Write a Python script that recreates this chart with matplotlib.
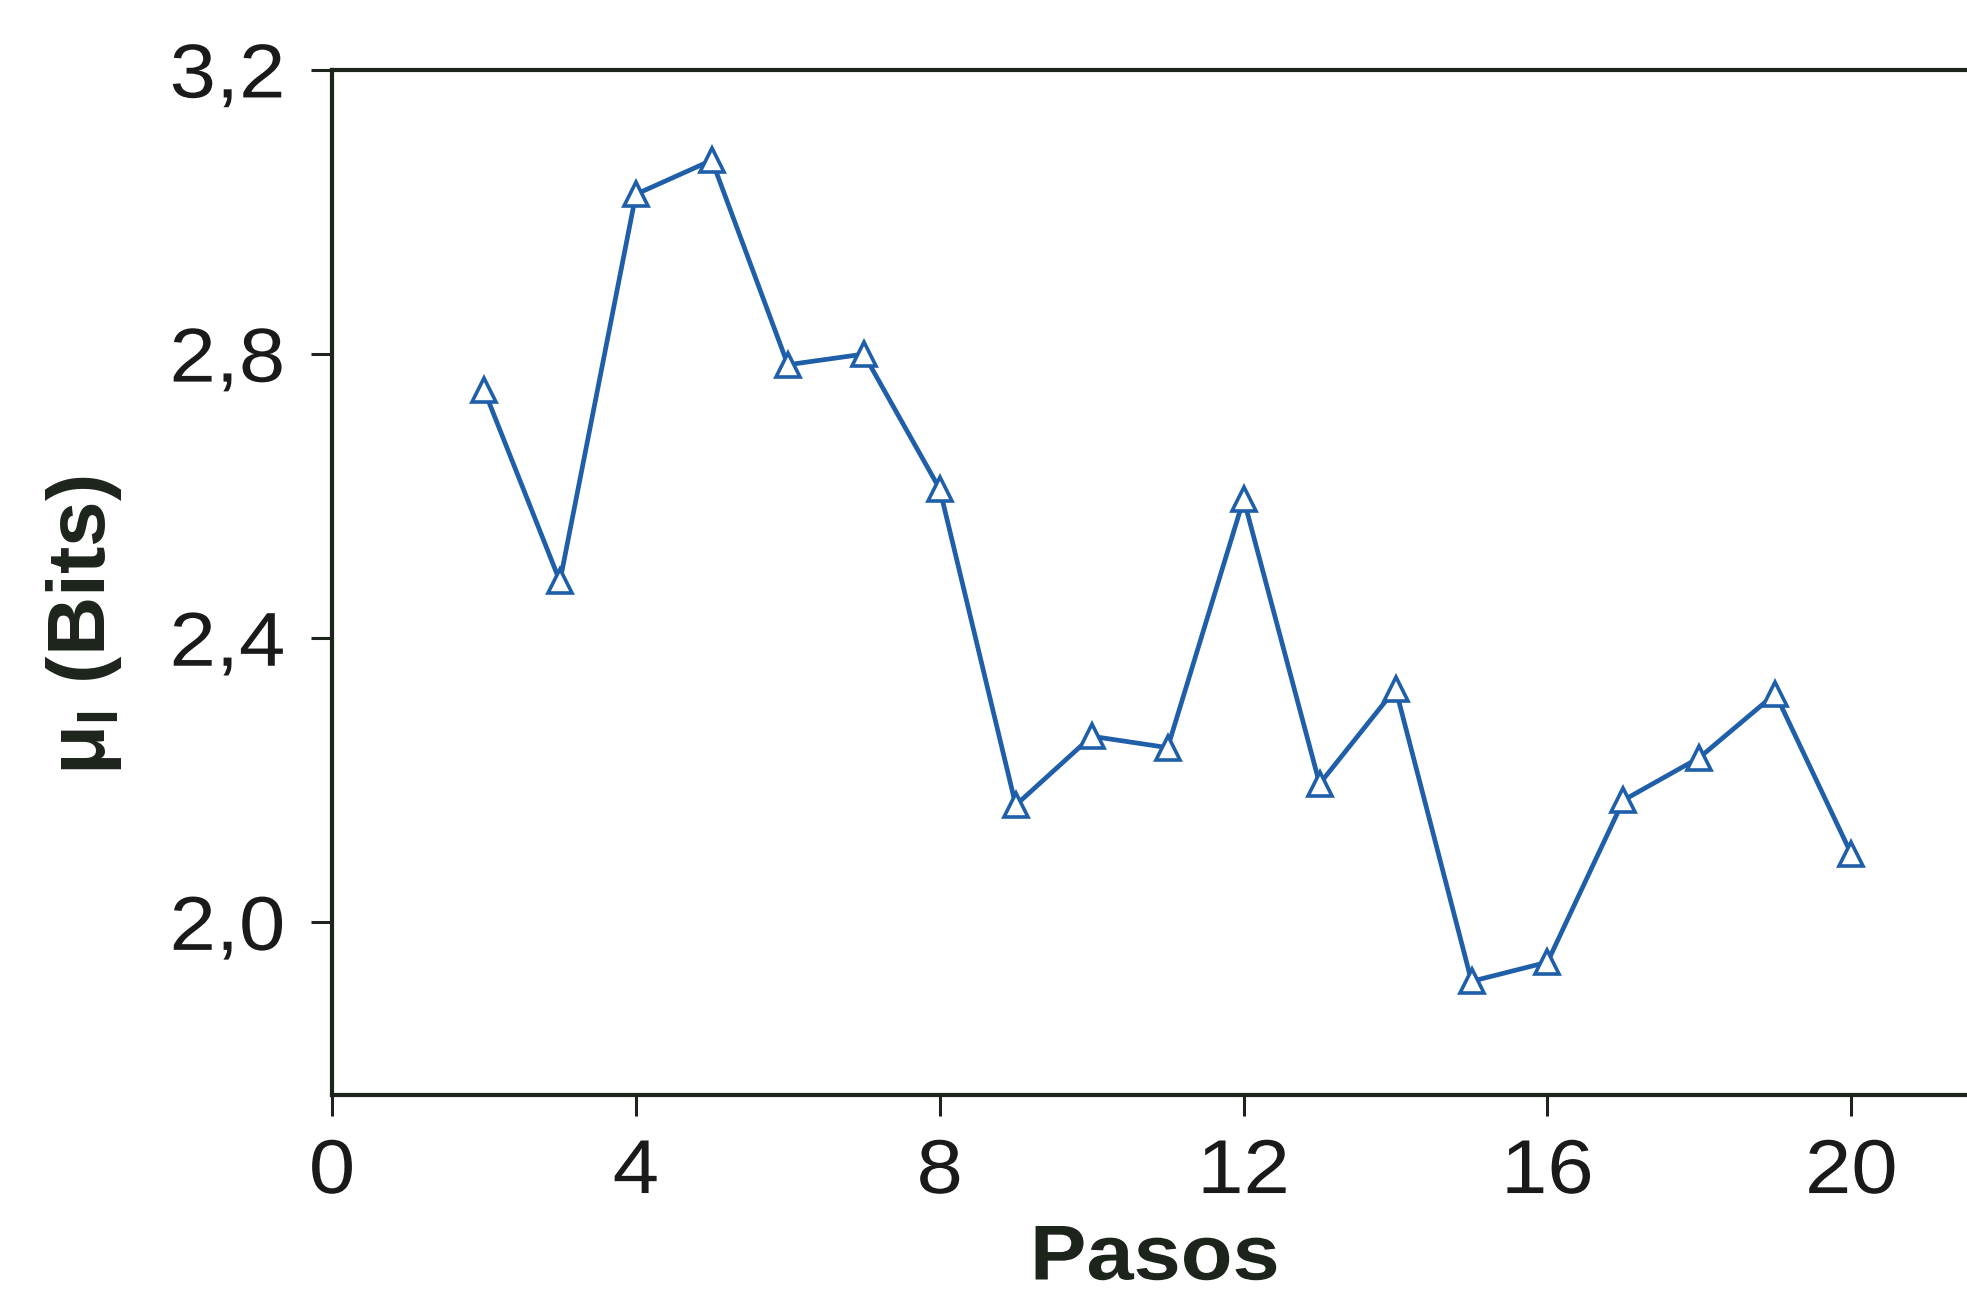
import matplotlib
matplotlib.use('Agg')
import matplotlib.pyplot as plt
from matplotlib import patheffects
from matplotlib.transforms import Affine2D

# datos
pasos = [2, 3, 4, 5, 6, 7, 8, 9, 10, 11, 12, 13, 14, 15, 16, 17, 18, 19, 20]
mu_bits = [2.75, 2.48, 3.025, 3.073, 2.785, 2.80, 2.61, 2.165, 2.262, 2.246,
           2.596, 2.195, 2.329, 1.917, 1.944, 2.172, 2.232, 2.322, 2.096]
x_ticks = [0, 4, 8, 12, 16, 20]
y_ticks = [2.0, 2.4, 2.8, 3.2]
y_tick_labels = ['2,0', '2,4', '2,8', '3,2']


class Stretch(patheffects.AbstractPathEffect):
    # ensancha el texto horizontalmente, como en la figura escaneada
    def __init__(self, sx):
        super().__init__()
        self.sx = sx

    def draw_path(self, renderer, gc, tpath, affine, rgbFace=None):
        ext = tpath.get_extents()
        cx = (ext.x0 + ext.x1) / 2
        t = Affine2D().translate(-cx, 0).scale(self.sx, 1).translate(cx, 0)
        renderer.draw_path(gc, tpath, t + affine, rgbFace)


plt.rcParams['font.family'] = ['Liberation Sans', 'DejaVu Sans']
plt.rcParams['mathtext.fontset'] = 'custom'
plt.rcParams['mathtext.rm'] = 'Liberation Sans'
plt.rcParams['mathtext.bf'] = 'Liberation Sans:bold'

axis_color = '#1c241c'
line_color = '#1f5ea8'
wide = [Stretch(1.09)]

fig = plt.figure(figsize=(19.67, 12.98), dpi=100)
ax = fig.add_axes([0.1688, 0.1564, 0.84, 0.7897])

ax.plot(pasos, mu_bits, color=line_color, linewidth=3.4,
        marker='^', markersize=17, markerfacecolor='white',
        markeredgecolor=line_color, markeredgewidth=2.6)

ax.set_xlim(0, 21.75)
ax.set_ylim(1.757, 3.2)
ax.set_xticks(x_ticks)
ax.set_yticks(y_ticks)
ax.set_yticklabels(y_tick_labels)

for side in ['left', 'bottom', 'top']:
    ax.spines[side].set_linewidth(3)
    ax.spines[side].set_color(axis_color)
ax.spines['right'].set_visible(False)

ax.tick_params(axis='both', direction='out', length=15, width=2.2,
               color=axis_color, labelsize=55, labelcolor='#1a1a1a')
ax.tick_params(axis='x', pad=16)
ax.tick_params(axis='y', pad=22)
for lbl in ax.get_xticklabels() + ax.get_yticklabels():
    lbl.set_path_effects(wide)

ax.set_xlabel('Pasos', fontsize=56, fontweight='bold', color=axis_color,
              va='baseline', path_effects=wide)
ax.xaxis.set_label_coords(0.498, -0.180)
ax.set_ylabel(r'$\mathbf{\mu}_\mathbf{I}$ (Bits)', fontsize=59,
              fontweight='bold', color=axis_color)
ax.yaxis.set_label_coords(-0.126, 0.458)

fig.savefig('out.png', dpi=100)
